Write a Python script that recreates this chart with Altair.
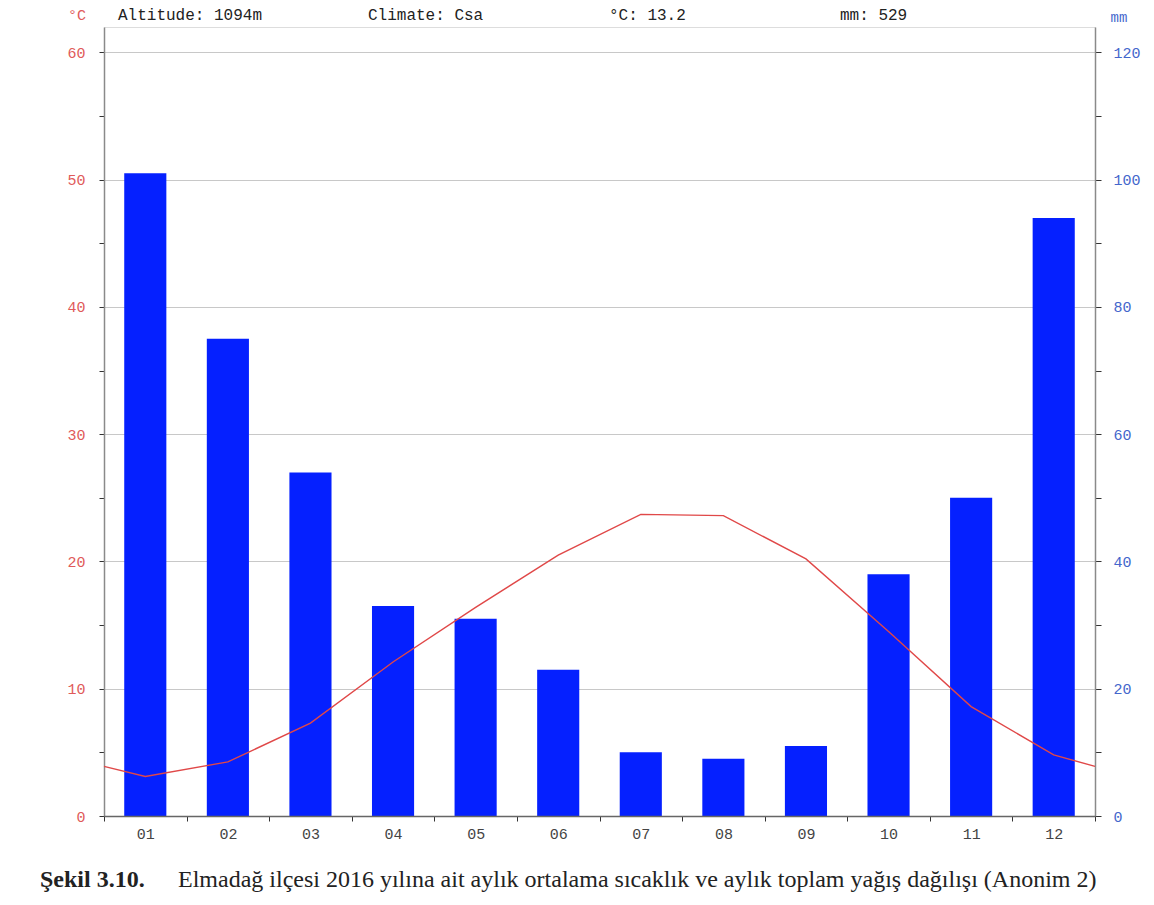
import altair as alt
import pandas as pd

# ---- data ----
months = ["01", "02", "03", "04", "05", "06", "07", "08", "09", "10", "11", "12"]
month_pos = [1, 2, 3, 4, 5, 6, 7, 8, 9, 10, 11, 12]
temp_c = [3.1, 4.25, 7.3, 12.1, 16.4, 20.5, 23.7, 23.6, 20.2, 14.5, 8.6, 4.8]
precip_mm = [101, 75, 54, 33, 31, 23, 10, 9, 11, 38, 50, 94]
edge_pos = [0.5, 12.5]
edge_temp = [3.9, 3.9]

altitude = "1094m"
climate = "Csa"
mean_temp = 13.2
total_mm = 529

temp_ticks = [0, 5, 10, 15, 20, 25, 30, 35, 40, 45, 50, 55, 60]
mm_ticks = [0, 10, 20, 30, 40, 50, 60, 70, 80, 90, 100, 110, 120]
month_ticks = [0.5, 1.5, 2.5, 3.5, 4.5, 5.5, 6.5, 7.5, 8.5, 9.5, 10.5, 11.5, 12.5]

caption_bold = "Şekil 3.10."
caption_text = "Elmadağ ilçesi 2016 yılına ait aylık ortalama sıcaklık ve aylık toplam yağış dağılışı (Anonim 2)"

# ---- tables ----
df_p = pd.DataFrame({"month": months, "pos": month_pos, "mm": precip_mm})
df_t = pd.DataFrame({
    "pos": [edge_pos[0]] + month_pos + [edge_pos[1]],
    "temp": [edge_temp[0]] + temp_c + [edge_temp[1]],
})

W, H = 991, 789
MONO = "Liberation Mono"
RED = "#e05a5a"
BLUE = "#4466cc"

xscale = alt.Scale(domain=[0.5, 12.5], nice=False, zero=False)
xaxis = alt.Axis(
    values=month_ticks,
    labelExpr="datum.value < 12 ? (datum.value < 9 ? '0' : '') + format(datum.value + 0.5, 'd') : ''",
    labelOffset=W / 12 / 2,
    labelFlush=False,
    labelOverlap=False,
    labelFont=MONO,
    labelFontSize=15,
    labelColor="#444444",
    labelPadding=5,
    tickSize=5,
    tickColor="#333333",
    domainColor="#666666",
    domainWidth=1.5,
    grid=False,
    title=None,
    zindex=1,
)

bars = (
    alt.Chart(df_p)
    .transform_calculate(x0="datum.pos - 0.255", x1="datum.pos + 0.255")
    .mark_bar(color="#0520ff")
    .encode(
        x=alt.X("x0:Q", scale=xscale, axis=xaxis),
        x2="x1:Q",
        y=alt.Y(
            "mm:Q",
            scale=alt.Scale(domain=[0, 124], nice=False),
            axis=alt.Axis(
                orient="right",
                values=mm_ticks,
                labelExpr="datum.value % 20 === 0 ? datum.label : ''",
                labelOverlap=False,
                labelFlush=False,
                labelBaseline="middle",
                labelFont=MONO,
                labelFontSize=15,
                labelColor=BLUE,
                labelPadding=12,
                tickSize=6,
                tickColor="#333333",
                domainColor="#8a8a8a",
                domainWidth=1.5,
                grid=False,
                title=None,
            ),
        ),
        y2=alt.datum(0),
    )
)

line = (
    alt.Chart(df_t)
    .mark_line(color="#e04848", strokeWidth=1.4)
    .encode(
        x=alt.X("pos:Q", scale=xscale, axis=xaxis),
        y=alt.Y(
            "temp:Q",
            scale=alt.Scale(domain=[0, 62], nice=False),
            axis=alt.Axis(
                orient="left",
                values=temp_ticks,
                labelExpr="datum.value % 10 === 0 ? datum.label : ''",
                labelOverlap=False,
                labelFlush=False,
                labelBaseline="middle",
                labelFont=MONO,
                labelFontSize=15,
                labelColor=RED,
                labelPadding=14,
                tickSize=5,
                tickColor="#333333",
                domainColor="#8a8a8a",
                domainWidth=1.5,
                grid=True,
                gridColor="#c8c8c8",
                gridWidth=1,
                gridOpacity={"condition": {"test": "datum.value % 10 !== 0", "value": 0}, "value": 1},
                title=None,
            ),
        ),
    )
)


def label(text, x, y, color="#222222", size=16, font=MONO, align="left", weight="normal"):
    return (
        alt.Chart(pd.DataFrame({"t": [text]}))
        .mark_text(align=align, baseline="middle", font=font, fontSize=size,
                   color=color, fontWeight=weight)
        .encode(x=alt.value(x), y=alt.value(y), text="t:N")
    )


headers = [
    label("°C", -27, -12, color=RED, size=15, align="center"),
    label(f"Altitude: {altitude}", 14, -12),
    label(f"Climate: {climate}", 264, -12),
    label(f"°C: {mean_temp}", 505, -12),
    label(f"mm: {total_mm}", 736, -12),
    label("mm", 1015, -9, color=BLUE, size=14, align="center"),
    label(caption_bold, -64, 853, size=24, font="Liberation Serif", weight="bold"),
    label(caption_text, 74, 853, size=24, font="Liberation Serif"),
]

chart = (
    alt.layer(bars, line, *headers)
    .resolve_scale(y="independent")
    .properties(
        width=W,
        height=H,
        padding={"left": 96, "top": 19, "right": 48, "bottom": 78},
        autosize=alt.AutoSizeParams(type="none"),
    )
    .configure_view(stroke=None)
    .configure(background="white")
)

chart.save("out.html", embed_options={"renderer": "svg", "actions": False})
